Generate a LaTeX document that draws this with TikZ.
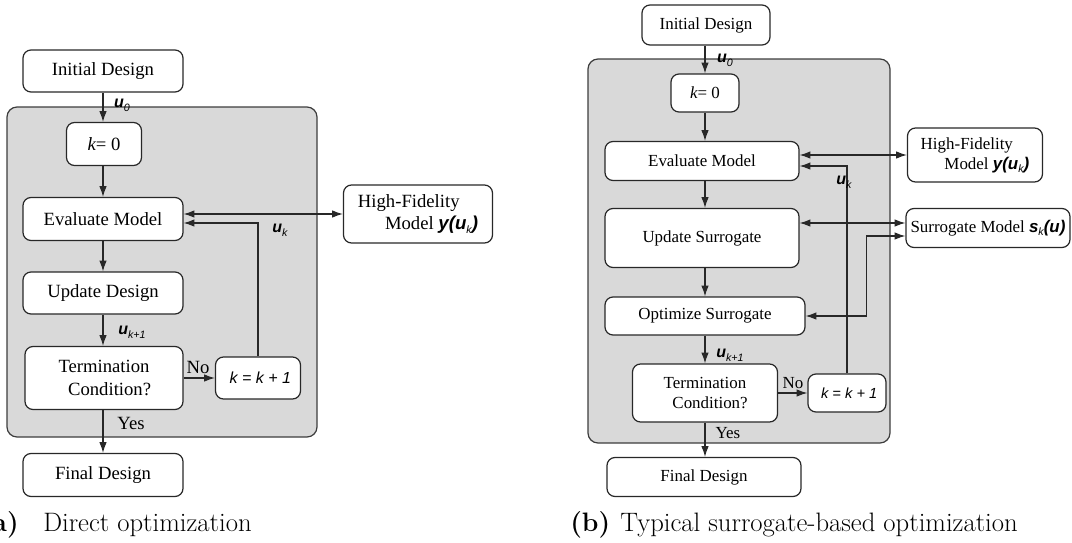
\documentclass[tikz,border=0pt]{standalone}
\usepackage{fontspec}
\usetikzlibrary{arrows.meta}
\newfontfamily\boxfont{Liberation Serif}
\newfontfamily\lblfont{Liberation Sans}
\definecolor{panelgray}{RGB}{217,217,217}
\definecolor{linecol}{RGB}{40,40,40}
% bold italic sans vector with an italic sans subscript
\newcommand\vecsub[2]{{\lblfont\bfseries\itshape #1}\raisebox{-0.45ex}{\lblfont\itshape\fontsize{8}{9}\selectfont #2}}
\begin{document}
\begin{tikzpicture}[x=0.75pt,y=-0.75pt,
  sz/.style 2 args={minimum width=#1*0.75pt,minimum height=#2*0.75pt},
  blk/.style={draw=linecol,fill=white,line width=0.9pt,rounded corners=6pt,inner sep=0pt,align=center},
  bigtxt/.style={font=\boxfont\fontsize{14}{17}\selectfont},
  smalltxt/.style={font=\boxfont\fontsize{12.7}{15}\selectfont},
  panel/.style={draw=linecol!90,fill=panelgray,line width=0.9pt,rounded corners=7.5pt},
  arr/.style={draw=linecol,line width=0.8pt,-{Latex[length=8pt,width=5.5pt]}},
  arrtwo/.style={draw=linecol,line width=0.8pt,{Latex[length=8pt,width=5.5pt]}-{Latex[length=8pt,width=5.5pt]}},
  lbl/.style={inner sep=0pt,font=\lblfont\fontsize{12}{14}\selectfont},
  captext/.style={inner sep=0pt,font=\fontsize{20}{24}\selectfont}
]
\useasboundingbox (0,0) rectangle (1072,543);

% ---------------- (a) direct optimization ----------------
\draw[panel] (7,107) rectangle (317,437);

\node[blk,bigtxt,sz={160}{42}] (aI) at (103,71) {Initial Design};
\node[blk,bigtxt,sz={75}{43}] (ak0) at (104,144) {{\itshape k}= 0};
\node[blk,bigtxt,sz={160}{43}] (aE) at (103,219) {Evaluate Model};
\node[blk,bigtxt,sz={160}{42}] (aU) at (103,293) {Update Design};
\node[blk,bigtxt,sz={158}{63}] (aT) at (104,378) {Termination\\\hspace*{0.6em}Condition?};
\node[blk,sz={85}{42},font=\lblfont\itshape\fontsize{12}{14}\selectfont] (aK) at (258,378) {\hspace*{0.3em}k = k + 1};
\node[blk,bigtxt,sz={160}{43}] (aF) at (103,475) {Final Design};
\node[blk,bigtxt,sz={149}{58},align=left] (aH) at (418,214)
  {High-Fidelity\\\hspace*{1.45em}Model \vecsub{y(u}{k}{\lblfont\bfseries\itshape )}};

\draw[arr] (aI.south) -- (aI.south |- ak0.north);
\draw[arr] (aI.south |- ak0.south) -- (aI.south |- aE.north);
\draw[arr] (aI.south |- aE.south) -- (aI.south |- aU.north);
\draw[arr] (aI.south |- aU.south) -- (aI.south |- aT.north);
\draw[arr] (aI.south |- aT.south) -- (aI.south |- aF.north);
\draw[arr] (aT) -- (aK);
\draw[arr] (aK.north) |- ([yshift=-3pt]aE.east);
\draw[arrtwo] (aE.east |- aH.west) -- (aH.west);

\node[lbl] at (122,105) {\vecsub{u}{0}};
\node[lbl] at (280,230) {\vecsub{u}{k}};
\node[lbl] at (132,332) {\vecsub{u}{k+1}};
\node[inner sep=0pt,bigtxt] at (198,367) {No};
\node[inner sep=0pt,bigtxt] at (131,423) {Yes};

\node[captext,anchor=base east] (capa) at (19,531) {\bfseries (a)};
\node[captext,anchor=base west] (capatxt) at (43,531) {Direct optimization};

% ---------------- (b) surrogate-based optimization ----------------
\draw[panel] (588,59) rectangle (890,443);

\node[blk,smalltxt,sz={128}{40}] (bI) at (706,25) {Initial Design};
\node[blk,smalltxt,sz={68}{38}] (bk0) at (705,93) {{\itshape k}= 0};
\node[blk,smalltxt,sz={194}{39}] (bE) at (702,161) {Evaluate Model};
\node[blk,smalltxt,sz={194}{59}] (bS) at (702,238) {Update Surrogate};
\node[blk,smalltxt,sz={200}{38}] (bO) at (705,316) {Optimize Surrogate};
\node[blk,smalltxt,sz={145}{58}] (bT) at (705,393) {Termination\\\hspace*{0.6em}Condition?};
\node[blk,sz={78}{38},font=\lblfont\itshape\fontsize{11}{13}\selectfont] (bK) at (847,393) {\hspace*{0.3em}k = k + 1};
\node[blk,smalltxt,sz={194}{39}] (bF) at (704,477) {Final Design};
\node[blk,smalltxt,sz={135}{54},align=left] (bH) at (975,155)
  {High-Fidelity\\\hspace*{1.4em}Model \vecsub{y(u}{k}{\lblfont\bfseries\itshape )}};
\node[blk,smalltxt,sz={164}{39}] (bM) at (988,228)
  {Surrogate Model \vecsub{s}{k}{\lblfont\bfseries\itshape (u)}};

\draw[arr] (bk0.south |- bI.south) -- (bk0.north);
\draw[arr] (bk0.south) -- (bk0.south |- bE.north);
\draw[arr] (bk0.south |- bE.south) -- (bk0.south |- bS.north);
\draw[arr] (bk0.south |- bS.south) -- (bk0.south |- bO.north);
\draw[arr] (bk0.south |- bO.south) -- (bk0.south |- bT.north);
\draw[arr] (bk0.south |- bT.south) -- (bk0.south |- bF.north);
\draw[arr] (bT) -- (bK);
\draw[arr] (bK.north) |- ([yshift=-3.75pt]bE.east);
\draw[arrtwo] (bE.east |- bH.west) -- (bH.west);
\draw[arrtwo] ([yshift=11.25pt]bS.east) -- ([yshift=3.75pt]bM.west);
\draw[arrtwo] ([yshift=-6pt]bM.west) -- ++(-39,0) |- (bO.east);

\node[lbl] at (725,60) {\vecsub{u}{0}};
\node[lbl] at (844,182) {\vecsub{u}{k}};
\node[lbl] at (730,355) {\vecsub{u}{k+1}};
\node[inner sep=0pt,smalltxt] at (793,383) {No};
\node[inner sep=0pt,smalltxt] at (728,433) {Yes};

\node[captext,anchor=base west] (capb) at (570,531) {\bfseries (b)};
\node[captext,anchor=base west] (capbtxt) at (620,531) {Typical surrogate-based optimization};
\end{tikzpicture}
\end{document}
